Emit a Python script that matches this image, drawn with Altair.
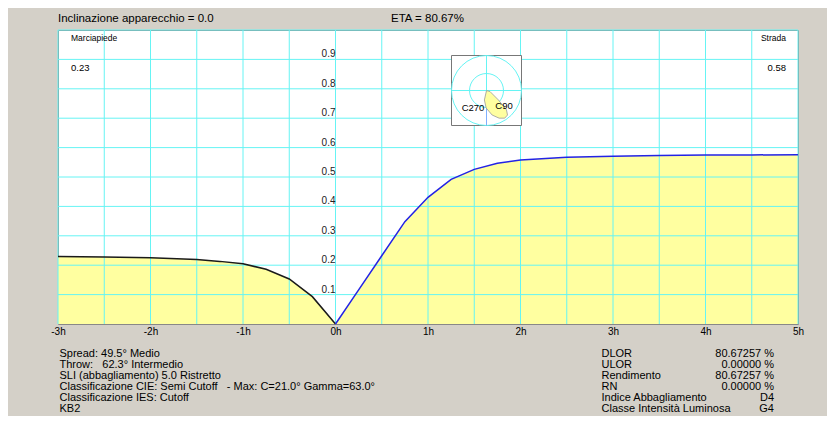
import altair as alt
import pandas as pd

# ---- data ----
left_x = [-3.0, -2.5, -2.0, -1.5, -1.25, -1.0, -0.75, -0.5, -0.25, 0.0]
left_y = [0.230, 0.228, 0.225, 0.219, 0.213, 0.205, 0.186, 0.153, 0.093, 0.0]
right_x = [0.0, 0.25, 0.5, 0.75, 1.0, 1.25, 1.5, 1.75, 2.0, 2.5, 3.0, 3.5, 4.0, 4.5, 5.0]
right_y = [0.0, 0.116, 0.232, 0.348, 0.431, 0.492, 0.526, 0.547, 0.558, 0.567, 0.571, 0.573, 0.575, 0.575, 0.576]

grid_x = [-3.0, -2.5, -2.0, -1.5, -1.0, -0.5, 0.0, 0.5, 1.0, 1.5, 2.0, 2.5, 3.0, 3.5, 4.0, 4.5, 5.0]
grid_y = [0.1, 0.2, 0.3, 0.4, 0.5, 0.6, 0.7, 0.8, 0.9, 1.0]
ylab_vals = [0.1, 0.2, 0.3, 0.4, 0.5, 0.6, 0.7, 0.8, 0.9]
x_ticks = [-3, -2, -1, 0, 1, 2, 3, 4, 5]

NB = "\u00a0"
header_left = "Inclinazione apparecchio = 0.0"
header_mid = "ETA = 80.67%"
side_left = ["Marciapiede", "0.23"]
side_right = ["Strada", "0.58"]
polar_labels = ["C270", "C90"]
footer_left = [
    "Spread: 49.5° Medio",
    "Throw:" + NB * 3 + "62.3° Intermedio",
    "SLI (abbagliamento) 5.0 Ristretto",
    "Classificazione CIE: Semi Cutoff" + NB * 3 + "- Max: C=21.0° Gamma=63.0°",
    "Classificazione IES: Cutoff",
    "KB2",
]
footer_right_labels = ["DLOR", "ULOR", "Rendimento", "RN", "Indice Abbagliamento", "Classe Intensità Luminosa"]
footer_right_values = ["80.67257 %", "0.00000 %", "80.67257 %", "0.00000 %", "D4", "G4"]

# ---- styling ----
FONT = "Liberation Sans"
YELLOW = "#ffffa0"
GRID = "#66f4f4"
W, H = 740, 294

xs = alt.Scale(domain=[-3, 5], nice=False, zero=False)
ys = alt.Scale(domain=[0, 1], nice=False, zero=True)
X = alt.X(
    "x:Q", scale=xs, title=None,
    axis=alt.Axis(values=x_ticks, labelExpr="datum.value + 'h'", grid=False, ticks=False,
                  domain=False, labelFontSize=10, labelPadding=2, labelFlush=False,
                  labelOverlap=False, labelColor="#000", labelFont=FONT),
)
Y = alt.Y("y:Q", scale=ys, axis=None)

left_df = pd.DataFrame({"x": left_x, "y": left_y})
right_df = pd.DataFrame({"x": right_x, "y": right_y})
gx_df = pd.DataFrame({"x": grid_x})
gy_df = pd.DataFrame({"y": grid_y})
yl_df = pd.DataFrame({"x": [0.0] * len(ylab_vals), "y": ylab_vals})
one = alt.Data(values=[{}])

area_l = alt.Chart(left_df).mark_area(color=YELLOW).encode(x=X, y=Y)
area_r = alt.Chart(right_df).mark_area(color=YELLOW).encode(x=X, y=Y)
vgrid = alt.Chart(gx_df).mark_rule(color=GRID, strokeWidth=1).encode(x=X)
hgrid = alt.Chart(gy_df).mark_rule(color=GRID, strokeWidth=1).encode(y=Y)
line_l = alt.Chart(left_df).mark_line(color="#1a1a1a", strokeWidth=1.5).encode(x=X, y=Y)
line_r = alt.Chart(right_df).mark_line(color="#2323e6", strokeWidth=1.5).encode(x=X, y=Y)
ylabels = alt.Chart(yl_df).mark_text(
    align="right", baseline="alphabetic", dy=-2, fontSize=10, font=FONT, color="#222"
).encode(x=X, y=Y, text=alt.Text("y:Q", format=".1f"))


def txt(s, x, y, size=11, align="left", baseline="middle", color="#000", lh=11):
    return alt.Chart(one).mark_text(
        align=align, baseline=baseline, fontSize=size, font=FONT, color=color, lineHeight=lh
    ).encode(x=alt.value(x), y=alt.value(y), text=alt.value(s))


# polar inset (decorative glyph)
CX, CY = 428.5, 60.5
blob = "M0,0 L-0.06,0.27 L-0.01,0.5 L0.16,0.7 L0.36,0.79 L0.52,0.79 L0.6,0.7 L0.57,0.55 L0.34,0.27 L0.1,0.03 Z"
box = alt.Chart(one).mark_point(shape="square", size=4900, filled=True, fill="white",
                                stroke="#777", strokeWidth=1, opacity=1).encode(
    x=alt.value(CX), y=alt.value(CY))
circ_o = alt.Chart(one).mark_point(shape="circle", size=4900, filled=False, stroke=GRID,
                                   strokeWidth=1, opacity=1).encode(x=alt.value(CX), y=alt.value(CY))
circ_i = alt.Chart(one).mark_point(shape="circle", size=1156, filled=False, stroke=GRID,
                                   strokeWidth=1, opacity=1).encode(x=alt.value(CX), y=alt.value(CY))
cross_v = alt.Chart(one).mark_rule(color=GRID).encode(
    x=alt.value(CX), y=alt.value(CY - 35), y2=alt.value(CY))
cross_v2 = alt.Chart(one).mark_rule(color="#7fb0ff").encode(
    x=alt.value(CX), y=alt.value(CY), y2=alt.value(CY + 35))
cross_h = alt.Chart(one).mark_rule(color=GRID).encode(
    x=alt.value(CX - 35), x2=alt.value(CX + 35), y=alt.value(CY))
blob_m = alt.Chart(one).mark_point(shape=blob, size=4900, filled=True, fill=YELLOW,
                                   stroke="#999", strokeWidth=0.8, opacity=1).encode(
    x=alt.value(CX), y=alt.value(CY))

layers = [
    area_l, area_r, vgrid, hgrid, line_l, line_r, ylabels,
    box, circ_o, circ_i, cross_v, cross_v2, cross_h, blob_m,
    txt(polar_labels[0], 415, 78, size=9.5, align="center"),
    txt(polar_labels[1], 446, 76, size=9.5, align="center"),
    txt(header_left, 0, -11, size=11.5),
    txt(header_mid, 333, -11, size=11.5),
    txt(side_left[0], 13, 8, size=8.5),
    txt(side_left[1], 13, 37.5, size=9.5),
    txt(side_right[0], 728, 8, size=8.5, align="right"),
    txt(side_right[1], 728, 37.5, size=9.5, align="right"),
    txt(footer_left, 1.5, 327, size=11, baseline="alphabetic", lh=11),
    txt(footer_right_labels, 543.5, 327, size=11, baseline="alphabetic", lh=11),
    txt(footer_right_values, 716, 327, size=11, align="right", baseline="alphabetic", lh=11),
]

chart = alt.layer(*layers).properties(
    width=W, height=H,
    autosize=alt.AutoSizeParams(type="none"),
    padding={"left": 50, "top": 22, "right": 29, "bottom": 92},
    background="#d4d0c8",
).configure_view(stroke="#888888", strokeWidth=1, fill="white")

chart.save("out.html", embed_options={"renderer": "svg", "actions": False})
